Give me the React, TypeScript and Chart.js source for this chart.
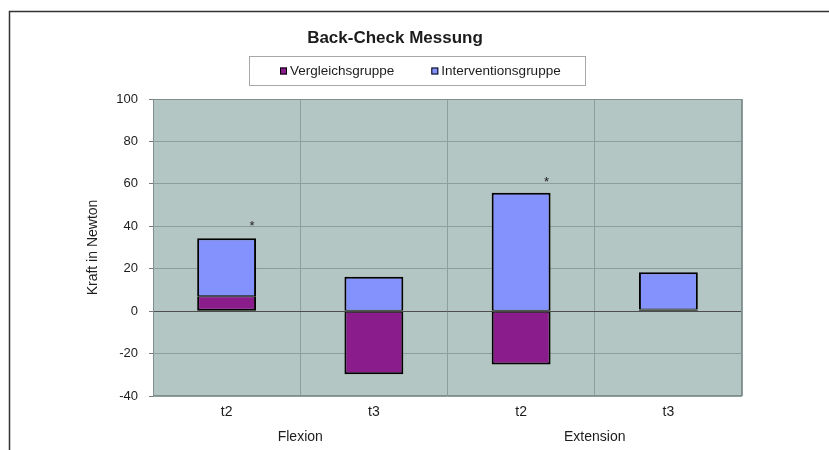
import { Chart, registerables } from 'chart.js'
import { useEffect, useRef } from 'react'

Chart.register(...registerables)

// data
const categories = ['t2', 't3', 't2', 't3']
const groups = ['Flexion', 'Extension']
const vergleichsgruppe = [7, -29.7, -25.2, 0.8]
const interventionsgruppe = [27.4, 16.2, 55.8, 17.5]
// height of the significance asterisk per category (null = none)
const significance: (number | null)[] = [41, null, 62, null]
const yMin = -40
const yMax = 100
const yStep = 20

const FONT = "'Liberation Sans', Arial, sans-serif"
const TEXT = '#1c1c1c'
const PLOT_BG = '#b4c6c3'
const GRID = '#8d9e9b'

const decor = {
  id: 'decor',
  beforeDraw(chart: any) {
    const { ctx, chartArea: a } = chart
    ctx.save()
    ctx.fillStyle = '#fff'
    ctx.fillRect(0, 0, chart.width, chart.height)
    ctx.fillStyle = PLOT_BG
    ctx.fillRect(a.left, a.top, a.right - a.left, a.bottom - a.top)
    ctx.restore()
  },
  afterDatasetsDraw(chart: any) {
    const { ctx } = chart
    const meta = chart.getDatasetMeta(1)
    ctx.save()
    ctx.fillStyle = TEXT
    ctx.font = `13px ${FONT}`
    ctx.textAlign = 'center'
    ctx.textBaseline = 'alphabetic'
    significance.forEach((v, i) => {
      if (v == null) return
      const bar = meta.data[i]
      const x = bar.x + bar.width * 0.43
      const y = chart.scales.y.getPixelForValue(v)
      ctx.fillText('*', x, y + 6)
    })
    ctx.restore()
  },
  afterDraw(chart: any) {
    const { ctx, chartArea: a } = chart
    ctx.save()
    // plot frame
    ctx.strokeStyle = '#7f8f8d'
    ctx.lineWidth = 1
    ctx.strokeRect(a.left + 0.5, a.top + 0.5, a.right - a.left - 1, a.bottom - a.top - 1)

    // title
    ctx.fillStyle = TEXT
    ctx.font = `bold 17px ${FONT}`
    ctx.textAlign = 'center'
    ctx.textBaseline = 'middle'
    ctx.fillText('Back-Check Messung', 395, 38)

    // legend box
    const bx = 249, by = 56, bw = 336, bh = 29
    ctx.strokeStyle = '#a8a8a8'
    ctx.strokeRect(bx + 0.5, by + 0.5, bw, bh)
    ctx.font = `13.5px ${FONT}`
    ctx.textAlign = 'left'
    let x = bx + 31
    const cy = by + bh / 2 + 1
    chart.data.datasets.forEach((ds: any) => {
      ctx.fillStyle = ds.backgroundColor
      ctx.fillRect(x, cy - 4, 7, 7)
      ctx.strokeStyle = '#000'
      ctx.strokeRect(x + 0.5, cy - 3.5, 6, 6)
      ctx.fillStyle = TEXT
      ctx.fillText(ds.label, x + 10, cy)
      x += 10 + ctx.measureText(ds.label).width + 37
    })

    // outer picture frame (left and top edges)
    ctx.strokeStyle = '#333'
    ctx.lineWidth = 1.5
    ctx.beginPath()
    ctx.moveTo(9.5, chart.height)
    ctx.lineTo(9.5, 11.5)
    ctx.lineTo(chart.width, 11.5)
    ctx.stroke()
    ctx.restore()
  },
}

export default function App() {
  const chartRef = useRef<HTMLCanvasElement>(null)
  const chartInstance = useRef<Chart | null>(null)

  useEffect(() => {
    document.body.style.margin = '0'
    if (!chartRef.current) return
    if (chartInstance.current) chartInstance.current.destroy()

    chartInstance.current = new Chart(chartRef.current, {
      type: 'bar',
      data: {
        labels: categories,
        datasets: [
          {
            label: 'Vergleichsgruppe',
            data: vergleichsgruppe,
            backgroundColor: '#8b1c8c',
            borderColor: '#000',
            // thinner top edge, shared with the blue segment
            borderWidth: { top: 1, right: 2, bottom: 2, left: 2 },
            borderSkipped: false,
          },
          {
            label: 'Interventionsgruppe',
            data: interventionsgruppe,
            backgroundColor: '#8492fd',
            borderColor: '#000',
            borderWidth: { top: 2, right: 2, bottom: 1, left: 2 },
            borderSkipped: false,
          },
        ],
      },
      plugins: [decor],
      options: {
        animation: false,
        responsive: true,
        maintainAspectRatio: false,
        categoryPercentage: 1,
        barPercentage: 0.4,
        layout: { padding: { left: 81, right: 87, top: 99, bottom: 0 } },
        scales: {
          x: {
            stacked: true,
            offset: true,
            grid: { offset: true, color: GRID, drawTicks: false },
            border: { display: false },
            ticks: { color: TEXT, font: { family: FONT, size: 14 }, padding: 8 },
            afterFit: (s: any) => { s.height = 26 },
          },
          x2: {
            type: 'category',
            labels: groups,
            position: 'bottom',
            offset: true,
            grid: { display: false, drawTicks: false },
            border: { display: false },
            ticks: { color: TEXT, font: { family: FONT, size: 14 }, padding: 7 },
            afterFit: (s: any) => { s.height = 28 },
          },
          y: {
            stacked: true,
            min: yMin,
            max: yMax,
            ticks: { stepSize: yStep, color: TEXT, font: { family: FONT, size: 13 }, padding: 11 },
            grid: {
              color: (c: any) => (c.tick && c.tick.value === 0 ? '#4d4d4d' : GRID),
              tickColor: '#777',
              tickLength: 4,
            },
            border: { display: false },
            title: {
              display: true,
              text: 'Kraft in Newton',
              color: TEXT,
              font: { family: FONT, size: 14 },
            },
            afterFit: (s: any) => { s.width = 72 },
          },
        },
        plugins: {
          legend: { display: false },
          title: { display: false },
          tooltip: { enabled: false },
        },
      },
    })

    return () => {
      if (chartInstance.current) {
        chartInstance.current.destroy()
        chartInstance.current = null
      }
    }
  }, [])

  return (
    <div style={{ width: 829, height: 450, position: 'relative' }}>
      <canvas ref={chartRef}></canvas>
    </div>
  )
}
